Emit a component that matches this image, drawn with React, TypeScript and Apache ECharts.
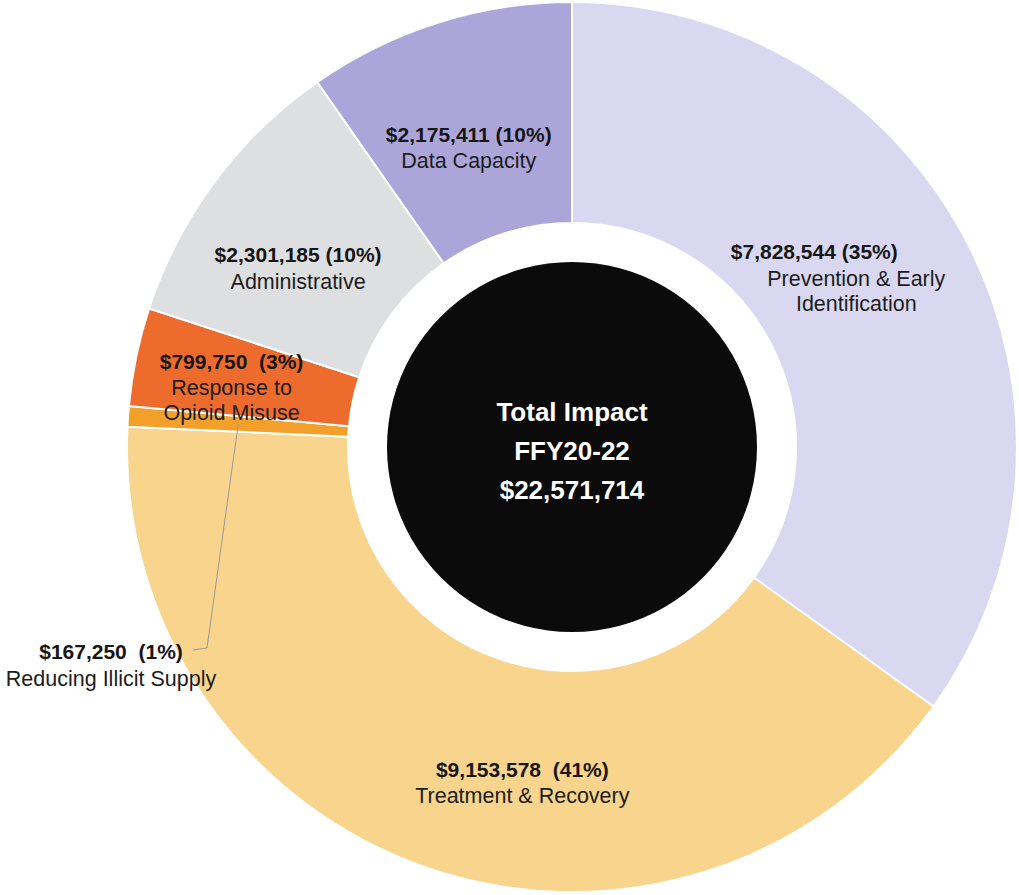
import React, { useEffect, useRef } from 'react';
import * as echarts from 'echarts';

const categories = [
  'Prevention & Early\nIdentification',
  'Treatment & Recovery',
  'Reducing Illicit Supply',
  'Response to\nOpioid Misuse',
  'Administrative',
  'Data Capacity',
];
const amounts = [7828544, 9153578, 167250, 799750, 2301185, 2175411];
const percents = [35, 41, 1, 3, 10, 10];
const separators = [' ', '  ', '  ', '  ', ' ', ' '];
const colors = ['#D9D8F0', '#F8D48C', '#F3A02B', '#EE6B2E', '#DEDFE1', '#ABA5DA'];
const centerLines = ['Total Impact', 'FFY20-22', '$22,571,714'];

const FONT = "'Liberation Sans', Arial, Helvetica, sans-serif";
const CX = 572;
const CY = 447;
const R_IN = 224;
const R_OUT = 445;
const R_CORE = 185;

// label nudges relative to the library's inside placement
const labelOffsets: number[][] = [[-16, -16], [61, 16], [0, 0], [-10, 8], [-3, 21.5], [-2, 21.5]];
const OUTSIDE_INDEX = 2;
const OUT_X = 111;
const OUT_Y = 664;

export default function App() {
  const ref = useRef<HTMLDivElement>(null);
  useEffect(() => {
    if (!ref.current) return;
    const chart = echarts.init(ref.current, undefined, { renderer: 'svg' });
    const total = amounts.reduce((a, b) => a + b, 0);
    const before = amounts.slice(0, OUTSIDE_INDEX).reduce((a, b) => a + b, 0);
    const midFrac = (before + amounts[OUTSIDE_INDEX] / 2) / total;
    const ang = midFrac * Math.PI * 2;
    const rMid = (R_IN + R_OUT) / 2;
    const sx = CX + rMid * Math.sin(ang);
    const sy = CY - rMid * Math.cos(ang);

    const data = categories.map((name, i) => {
      const item: any = {
        name,
        value: amounts[i],
        itemStyle: { color: colors[i] },
      };
      if (i === OUTSIDE_INDEX) {
        item.label = { position: 'outside' };
      }
      return item;
    });

    chart.setOption({
      animation: false,
      backgroundColor: '#ffffff',
      graphic: [
        {
          type: 'polyline',
          z: 10,
          silent: true,
          shape: {
            points: [
              [sx, sy],
              [OUT_X + 96, OUT_Y - 16],
              [OUT_X + 82, OUT_Y - 14],
            ],
          },
          style: { stroke: '#9a9a9a', lineWidth: 1, fill: null },
        },
      ],
      series: [
        {
          type: 'pie',
          center: [CX, CY],
          radius: [R_IN, R_OUT],
          startAngle: 90,
          clockwise: true,
          avoidLabelOverlap: false,
          silent: true,
          itemStyle: { borderColor: '#ffffff', borderWidth: 2 },
          label: {
            show: true,
            position: 'inside',
            fontFamily: FONT,
            color: '#1c1c1c',
            formatter: (p: any) => {
              const i = p.dataIndex;
              const key = i === 0 ? 'v0' : 'v';
              const amt = '$' + amounts[i].toLocaleString('en-US') + separators[i] + '(' + percents[i] + '%)';
              const nameLines = categories[i].split('\n').map((l) => '{n|' + l + '}').join('\n');
              return '{' + key + '|' + amt + '}\n' + nameLines;
            },
            rich: {
              v: { fontFamily: FONT, fontWeight: 'bold', fontSize: 21, color: '#161616', lineHeight: 29 },
              v0: { fontFamily: FONT, fontWeight: 'bold', fontSize: 21, color: '#161616', lineHeight: 29, padding: [0, 84, 0, 0] },
              n: { fontFamily: FONT, fontSize: 21.5, color: '#1c1c1c', lineHeight: 25 },
            },
          },
          labelLine: { show: false },
          labelLayout: (params: any) => {
            const i = params.dataIndex;
            if (i === OUTSIDE_INDEX) {
              return { x: OUT_X, y: OUT_Y, align: 'center', verticalAlign: 'middle' };
            }
            const o = labelOffsets[i];
            return { dx: o[0], dy: o[1] };
          },
          data,
        },
        {
          type: 'pie',
          center: [CX, CY],
          radius: [0, R_CORE],
          silent: true,
          itemStyle: { color: '#0b0b0b' },
          label: {
            show: true,
            position: 'center',
            formatter: centerLines.join('\n'),
            fontFamily: FONT,
            fontWeight: 'bold',
            fontSize: 26,
            lineHeight: 39,
            color: '#ffffff',
          },
          labelLayout: () => ({ dy: 4 }),
          labelLine: { show: false },
          data: [{ name: centerLines[0], value: 1 }],
        },
      ],
    });
    return () => chart.dispose();
  }, []);
  return (
    <div
      ref={ref}
      style={{ position: 'absolute', left: 0, top: 0, width: 1019, height: 895, background: '#fff' }}
    />
  );
}
